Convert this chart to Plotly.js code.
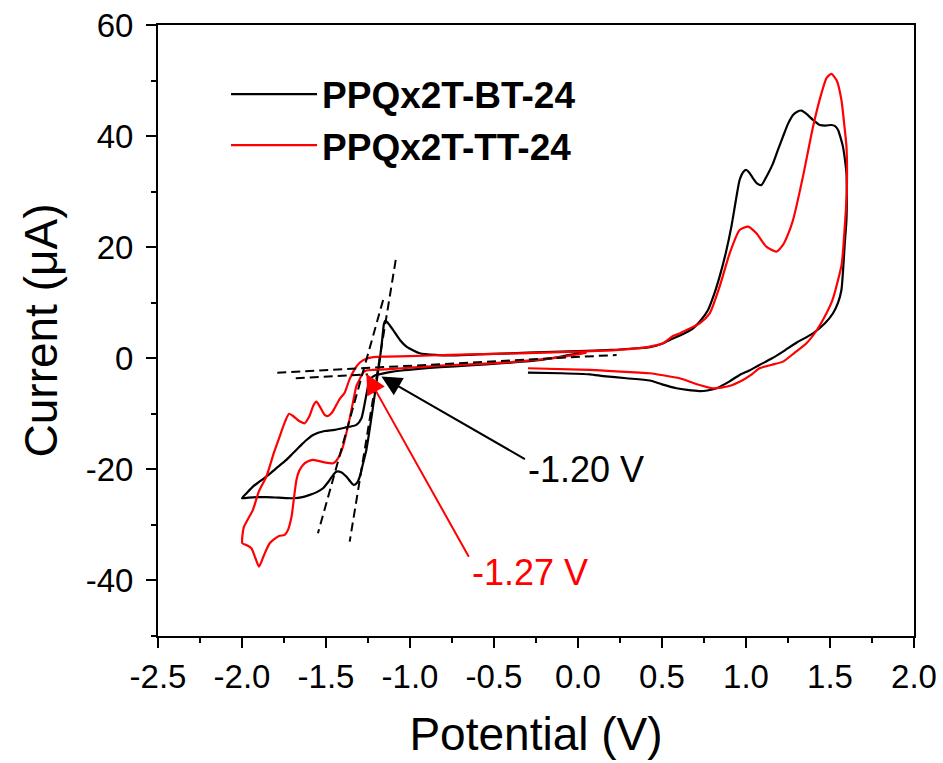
<!DOCTYPE html>
<html>
<head>
<meta charset="utf-8">
<script src="https://cdn.plot.ly/plotly-3.0.1.min.js"></script>
<style>html,body{margin:0;padding:0;background:#fff;}#chart{width:943px;height:763px;}</style>
</head>
<body>
<div id="chart"></div>
<script>
// ---- Data (Potential in V, Current in µA) ----
const seriesNames = ["PPQx2T-BT-24", "PPQx2T-TT-24"];

const bt_V = [0.05, -0.1, -0.25, -0.45, -0.65, -0.82, -0.95, -1.05, -1.12, -1.17, -1.21, -1.24, -1.26, -1.289, -1.319, -1.389, -1.45, -1.508, -1.577, -1.62, -1.657, -1.70, -1.736, -1.80, -1.855, -1.90, -1.935, -1.97, -2.0,
  -1.96, -1.91, -1.855, -1.78, -1.696, -1.64, -1.597, -1.555, -1.518, -1.48, -1.455, -1.438, -1.41, -1.379, -1.355, -1.335, -1.315, -1.299, -1.28, -1.26, -1.24, -1.22, -1.20, -1.18, -1.165, -1.155, -1.147, -1.135, -1.12, -1.101, -1.06, -1.021, -0.98, -0.942, -0.85, -0.764, -0.6, -0.4, -0.2, 0.0, 0.2, 0.35, 0.427, 0.5, 0.546, 0.6, 0.685, 0.73, 0.774, 0.81, 0.843, 0.88, 0.913, 0.94, 0.962, 0.985, 1.002, 1.02, 1.042, 1.065, 1.092, 1.12, 1.161, 1.19, 1.22, 1.25, 1.28, 1.305, 1.33, 1.36, 1.399, 1.439, 1.475, 1.508, 1.53, 1.548, 1.565, 1.577, 1.59, 1.598, 1.60, 1.598, 1.588, 1.568, 1.548, 1.518, 1.47, 1.399, 1.30, 1.22, 1.15, 1.08, 1.02, 0.962, 0.9, 0.824, 0.77, 0.724, 0.65, 0.586, 0.5, 0.427, 0.288, 0.15, 0.07, -0.1, -0.298];
const bt_I = [1.2, 0.3, -0.4, -0.9, -1.3, -1.6, -1.9, -2.2, -2.5, -2.8, -3.1, -3.9, -6.6, -10.8, -12.0, -12.5, -12.9, -13.1, -13.8, -14.8, -15.9, -17.2, -18.3, -19.9, -21.3, -22.3, -23.1, -24.2, -25.2,
  -25.1, -25.0, -25.0, -25.1, -25.2, -25.0, -24.6, -24.1, -23.4, -22.0, -20.9, -20.4, -20.5, -21.3, -22.2, -22.8, -22.4, -21.3, -19.0, -16.5, -12.8, -8.7, -4.5, -0.3, 3.5, 6.2, 6.8, 6.5, 5.9, 5.1, 3.3, 2.1, 1.4, 0.9, 0.6, 0.5, 0.7, 0.9, 1.1, 1.3, 1.5, 1.8, 2.0, 2.6, 3.3, 4.0, 5.4, 6.8, 8.7, 11.5, 14.7, 19.0, 23.7, 28.5, 32.1, 33.6, 33.9, 33.4, 32.4, 31.5, 31.2, 32.6, 35.1, 37.5, 39.9, 42.2, 43.8, 44.4, 44.6, 44.0, 42.9, 42.0, 41.9, 42.0, 41.8, 41.1, 39.5, 38.1, 35.5, 33.3, 30.0, 25.0, 20.7, 12.3, 10.0, 8.1, 6.3, 4.5, 2.8, 1.2, -0.1, -1.2, -2.2, -3.0, -4.2, -5.4, -5.8, -5.9, -5.7, -5.4, -4.7, -4.0, -3.6, -3.2, -2.9, -2.7, -2.6];

const tt_V = [0.05, -0.1, -0.25, -0.45, -0.65, -0.824, -0.95, -1.05, -1.15, -1.22, -1.26, -1.28, -1.30, -1.319, -1.34, -1.36, -1.379, -1.40, -1.418, -1.44, -1.458, -1.50, -1.577, -1.61, -1.637, -1.66, -1.676, -1.69, -1.705, -1.726, -1.746, -1.78, -1.835, -1.87, -1.899, -1.92, -1.944, -1.975, -1.998,
  -1.99, -1.965, -1.935, -1.90, -1.855, -1.81, -1.776, -1.745, -1.72, -1.70, -1.66, -1.627, -1.60, -1.575, -1.557, -1.535, -1.508, -1.49, -1.465, -1.449, -1.418, -1.389, -1.36, -1.33, -1.30, -1.26, -1.22, -1.14, -1.0, -0.764, -0.5, -0.2, 0.0, 0.248, 0.427, 0.506, 0.565, 0.6, 0.625, 0.724, 0.784, 0.843, 0.903, 0.962, 1.012, 1.062, 1.121, 1.181, 1.22, 1.25, 1.28, 1.339, 1.399, 1.449, 1.48, 1.508, 1.54, 1.568, 1.585, 1.598, 1.60, 1.595, 1.588, 1.57, 1.548, 1.515, 1.479, 1.42, 1.36, 1.29, 1.22, 1.15, 1.08, 1.03, 0.982, 0.9, 0.804, 0.7, 0.605, 0.427, 0.367, 0.2, 0.07, -0.298];
const tt_I = [1.0, 0.2, -0.3, -0.8, -1.1, -1.3, -1.6, -1.8, -2.0, -2.1, -2.2, -2.6, -3.8, -5.0, -8.0, -11.0, -13.5, -16.0, -17.4, -18.5, -18.9, -18.8, -18.3, -18.6, -19.2, -20.3, -21.9, -25.0, -28.5, -30.9, -31.8, -32.0, -33.3, -35.5, -37.5, -36.0, -34.2, -33.6, -33.3,
  -30.5, -29.0, -27.3, -24.0, -21.3, -17.0, -14.1, -11.5, -10.0, -10.3, -11.3, -11.7, -10.5, -8.5, -7.8, -8.8, -10.2, -10.4, -9.8, -9.0, -7.3, -6.2, -3.8, -2.0, -0.8, -0.1, 0.2, 0.3, 0.4, 0.6, 0.8, 1.0, 1.2, 1.5, 2.1, 2.7, 4.0, 4.4, 4.8, 6.3, 8.1, 12.9, 18.9, 23.1, 23.7, 22.5, 20.1, 19.2, 20.4, 22.3, 24.9, 32.7, 41.7, 47.7, 50.5, 51.2, 50.0, 46.5, 42.0, 38.1, 30.0, 27.0, 23.7, 17.0, 14.1, 10.5, 8.1, 5.0, 2.7, 1.0, -0.6, -1.2, -1.8, -3.0, -3.9, -5.0, -5.4, -4.6, -3.6, -2.7, -2.6, -2.3, -2.1, -1.8];

// Onset tangent lines (dashed)
const baseA_V = [-1.79, 0.23];   const baseA_I = [-2.6, 0.6];
const baseB_V = [-1.68, -1.25];  const baseB_I = [-3.6, -2.9];
const steep1_V = [-1.085, -1.359]; const steep1_I = [17.7, -33.0];
const steep2_V = [-1.16, -1.548];  const steep2_I = [10.5, -31.5];

// Tick labels (plain hyphen minus as in the reference)
const xTickVals = [-2.5, -2.0, -1.5, -1.0, -0.5, 0.0, 0.5, 1.0, 1.5, 2.0];
const xTickText = ["-2.5", "-2.0", "-1.5", "-1.0", "-0.5", "0.0", "0.5", "1.0", "1.5", "2.0"];
const yTickVals = [-40, -20, 0, 20, 40, 60];
const yTickText = ["-40", "-20", "0", "20", "40", "60"];

// Onset labels
const onsetLabels = ["-1.20 V", "-1.27 V"];

const FONT = "'Liberation Sans', Arial, Helvetica, sans-serif";

function curve(name, x, y, color, group) {
  return {x: x, y: y, name: name, type: 'scatter', mode: 'lines', legendgroup: group,
          line: {color: color, width: 2.2, shape: 'spline', smoothing: 0.6}};
}
function dashed(x, y) {
  return {x: x, y: y, type: 'scatter', mode: 'lines', showlegend: false, hoverinfo: 'skip',
          line: {color: '#000', width: 2, dash: '9px,5px'}};
}

const traces = [
  curve(seriesNames[0], bt_V, bt_I, '#000000', 'g1'),
  curve(seriesNames[1], tt_V, tt_I, '#ff0000', 'g2'),
  dashed(baseA_V, baseA_I), dashed(baseB_V, baseB_I),
  dashed(steep1_V, steep1_I), dashed(steep2_V, steep2_I)
];

const axisCommon = {
  showgrid: false, zeroline: false, showline: true, linecolor: '#000', linewidth: 2,
  mirror: true, ticks: 'outside', ticklen: 10, tickwidth: 2, tickcolor: '#000',
  tickfont: {family: FONT, size: 33, color: '#000'}
};

const layout = {
  width: 943, height: 763,
  margin: {l: 158, r: 29, t: 25, b: 127},
  paper_bgcolor: '#fff', plot_bgcolor: '#fff',
  font: {family: FONT, color: '#000'},
  showlegend: true,
  legend: {x: 0.09, y: 0.937, xanchor: 'left', yanchor: 'top', bgcolor: 'rgba(0,0,0,0)',
           font: {family: FONT, size: 37, color: '#000', weight: 'bold'},
           itemwidth: 86, tracegroupgap: 0},
  xaxis: Object.assign({}, axisCommon, {
    range: [-2.5, 2.0], tickmode: 'array', tickvals: xTickVals, ticktext: xTickText,
    minor: {dtick: 0.25, tick0: -2.5, ticks: 'outside', ticklen: 5, tickwidth: 2, tickcolor: '#000', showgrid: false},
    title: {text: 'Potential (V)', font: {family: FONT, size: 46, color: '#000'}, standoff: 24}
  }),
  yaxis: Object.assign({}, axisCommon, {
    range: [-50, 60], tickmode: 'array', tickvals: yTickVals, ticktext: yTickText,
    minor: {dtick: 10, tick0: -50, ticks: 'outside', ticklen: 5, tickwidth: 2, tickcolor: '#000', showgrid: false},
    ticklabelstandoff: 6,
    title: {text: 'Current (μA)', font: {family: FONT, size: 46, color: '#000'}, standoff: 14}
  }),
  annotations: [
    {x: -1.17, y: -3.3, ax: -0.307, ay: -18.3, xref: 'x', yref: 'y', axref: 'x', ayref: 'y',
     text: '', showarrow: true, arrowhead: 2, arrowsize: 2, arrowwidth: 2, arrowcolor: '#000', standoff: 0},
    {x: -1.26, y: -2.8, ax: -0.645, ay: -36.0, xref: 'x', yref: 'y', axref: 'x', ayref: 'y',
     text: '', showarrow: true, arrowhead: 2, arrowsize: 2, arrowwidth: 2, arrowcolor: '#ff0000', standoff: 0},
    {x: 0.049, y: -20.1, xref: 'x', yref: 'y', text: onsetLabels[0], showarrow: false,
     font: {family: FONT, size: 36, color: '#000'}},
    {x: -0.284, y: -38.5, xref: 'x', yref: 'y', text: onsetLabels[1], showarrow: false,
     font: {family: FONT, size: 36, color: '#ff0000'}}
  ]
};

Plotly.newPlot('chart', traces, layout, {displayModeBar: false, staticPlot: true});
</script>
</body>
</html>
